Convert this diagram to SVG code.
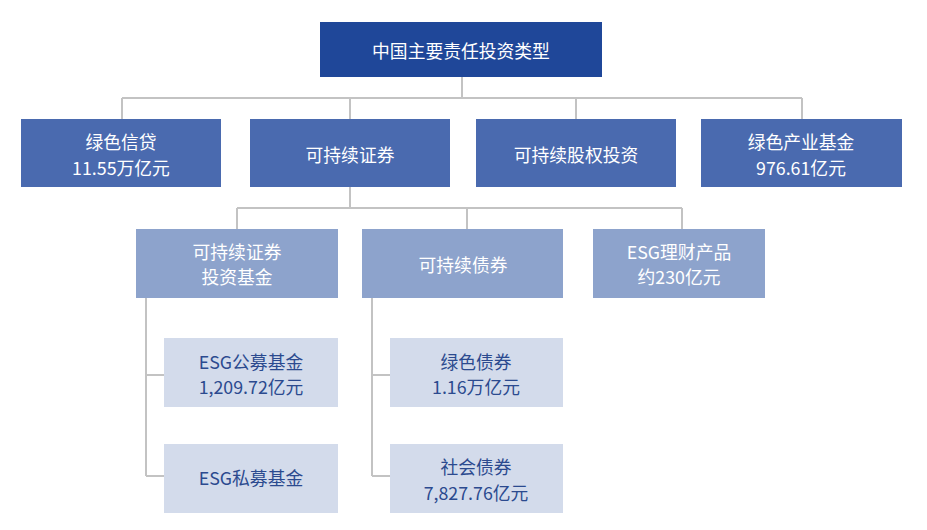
<svg xmlns="http://www.w3.org/2000/svg" width="927" height="530" viewBox="0 0 927 530">
<style>
text{font-family:"Noto Sans CJK SC","Noto Sans",sans-serif;font-size:17.8px;font-weight:normal;text-anchor:middle;dominant-baseline:central}
.root rect{fill:#1f4799}
.l1 rect{fill:#4a6aaf}
.l2 rect{fill:#8da3cc}
.l3 rect{fill:#d3dbeb}
.root text,.l1 text,.l2 text{fill:#ffffff}
.l3 text{fill:#2b4a8f}
.c{fill:none;stroke:#c3c3c3;stroke-width:2}
</style>
<rect width="927" height="530" fill="#ffffff"/>
<g id="connectors">
<path class="c" d="M462 77V98M122 98H802M122 98V119M350 98V119M576 98V119M802 98V119"/>
<path class="c" d="M350 187V208M237 208H682M237 208V229M467 208V229M682 208V229"/>
<path class="c" d="M146 298V476M146 375H164M146 476H164"/>
<path class="c" d="M372 298V476M372 375H390M372 476H390"/>
</g>
<g id="n0" class="root"><rect x="320" y="22" width="282" height="55"/><text x="461" y="49.5" font-size="18">中国主要责任投资类型</text></g>
<g id="n1" class="l1"><rect x="21" y="119" width="200" height="68"/><text x="121" y="141">绿色信贷</text><text x="121" y="167">11.55万亿元</text></g>
<g id="n2" class="l1"><rect x="250" y="119" width="200" height="68"/><text x="350" y="154">可持续证券</text></g>
<g id="n3" class="l1"><rect x="476" y="119" width="200" height="68"/><text x="576" y="154">可持续股权投资</text></g>
<g id="n4" class="l1"><rect x="701" y="119" width="201" height="68"/><text x="801" y="141">绿色产业基金</text><text x="801" y="167">976.61亿元</text></g>
<g id="n5" class="l2"><rect x="136" y="229" width="202" height="69"/><text x="237" y="251">可持续证券</text><text x="237" y="276">投资基金</text></g>
<g id="n6" class="l2"><rect x="362" y="229" width="201" height="69"/><text x="463" y="264">可持续债券</text></g>
<g id="n7" class="l2"><rect x="593" y="229" width="172" height="69"/><text x="679" y="251">ESG理财产品</text><text x="679" y="276">约230亿元</text></g>
<g id="n8" class="l3"><rect x="164" y="338" width="174" height="69"/><text x="251" y="361">ESG公募基金</text><text x="251" y="386">1,209.72亿元</text></g>
<g id="n9" class="l3"><rect x="164" y="444" width="174" height="69"/><text x="251" y="477">ESG私募基金</text></g>
<g id="n10" class="l3"><rect x="390" y="338" width="173" height="69"/><text x="476" y="361">绿色债券</text><text x="476" y="386">1.16万亿元</text></g>
<g id="n11" class="l3"><rect x="390" y="444" width="173" height="69"/><text x="476" y="466">社会债券</text><text x="476" y="492">7,827.76亿元</text></g>
</svg>
